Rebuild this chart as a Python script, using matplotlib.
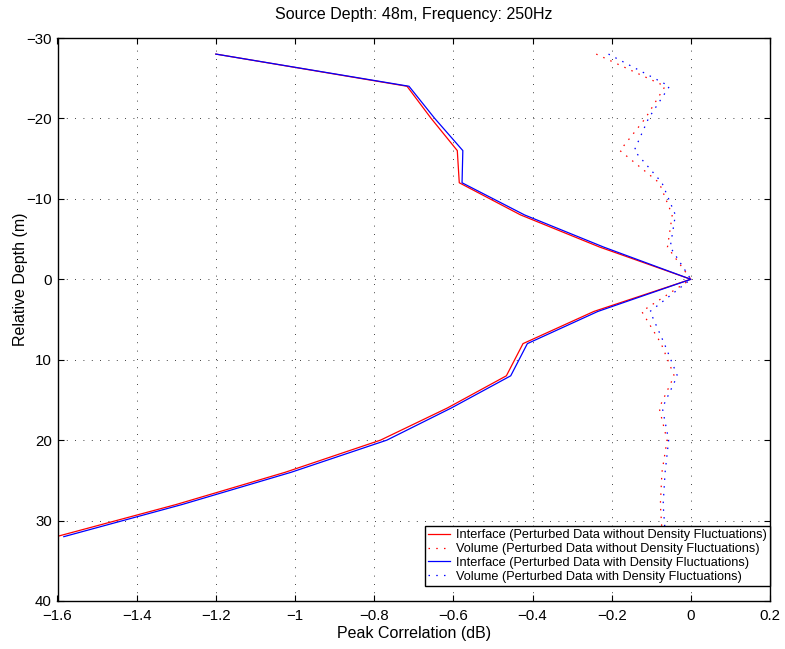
import matplotlib
matplotlib.use("Agg")
import matplotlib.pyplot as plt

plt.rcParams['font.family'] = ['Liberation Sans', 'DejaVu Sans']

depth = [-28, -24, -20, -16, -12, -8, -4, 0, 4, 8, 12, 16, 20, 24, 28, 32]

iface_no_dens = [-1.20, -0.717, -0.656, -0.590, -0.585, -0.430, -0.230, 0.0,
                 -0.245, -0.424, -0.466, -0.615, -0.784, -1.025, -1.300, -1.603]
vol_no_dens = [-0.239, -0.065, -0.115, -0.179, -0.080, -0.047, -0.059, 0.0,
               -0.124, -0.075, -0.042, -0.080, -0.060, -0.073, -0.077, -0.072]
iface_dens = [-1.20, -0.712, -0.647, -0.576, -0.578, -0.420, -0.220, 0.0,
              -0.235, -0.413, -0.455, -0.605, -0.768, -1.010, -1.285, -1.584]
vol_dens = [-0.208, -0.054, -0.107, -0.143, -0.073, -0.039, -0.052, 0.0,
            -0.103, -0.067, -0.034, -0.072, -0.056, -0.065, -0.070, -0.064]

labels = ["Interface (Perturbed Data without Density Fluctuations)",
          "Volume (Perturbed Data without Density Fluctuations)",
          "Interface (Perturbed Data with Density Fluctuations)",
          "Volume (Perturbed Data with Density Fluctuations)"]

xticks = [-1.6, -1.4, -1.2, -1.0, -0.8, -0.6, -0.4, -0.2, 0.0, 0.2]
xticklabels = ["\u22121.6", "\u22121.4", "\u22121.2", "\u22121", "\u22120.8",
               "\u22120.6", "\u22120.4", "\u22120.2", "0", "0.2"]
yticks = [-30, -20, -10, 0, 10, 20, 30, 40]
yticklabels = ["\u221230", "\u221220", "\u221210", "0", "10", "20", "30", "40"]

title = "Source Depth: 48m, Frequency: 250Hz"
xlabel = "Peak Correlation (dB)"
ylabel = "Relative Depth (m)"

fig = plt.figure(figsize=(7.85, 6.49), dpi=100)
ax = fig.add_axes([57.5 / 785, 48 / 649, 712.5 / 785, 563 / 649])

dot = (0, (1.2, 5))
ax.plot(iface_no_dens, depth, color='red', lw=0.9, label=labels[0])
ax.plot(vol_no_dens, depth, color='red', lw=0.9, linestyle=dot, label=labels[1])
ax.plot(iface_dens, depth, color='blue', lw=0.9, label=labels[2])
ax.plot(vol_dens, depth, color='blue', lw=0.9, linestyle=dot, label=labels[3])

ax.set_xlim(-1.6, 0.2)
ax.set_ylim(40, -30)
ax.set_xticks(xticks)
ax.set_xticklabels(xticklabels)
ax.set_yticks(yticks)
ax.set_yticklabels(yticklabels)

ax.grid(True, color='black', linestyle=(0, (1, 9)), linewidth=0.6)
ax.tick_params(direction='in', length=4, width=0.8, top=True, right=True,
               labelsize=10.8)
ax.tick_params(axis='x', pad=6)
ax.tick_params(axis='y', pad=4)
for s in ax.spines.values():
    s.set_linewidth(1.0)

ax.set_title(title, fontsize=11.5, pad=14)
ax.set_xlabel(xlabel, fontsize=11.5, labelpad=2)
ax.set_ylabel(ylabel, fontsize=11.5)
ax.yaxis.set_label_coords(-0.041, (601 - 279) / 563)

leg = ax.legend(loc='lower right', bbox_to_anchor=(1.0, 15 / 563), borderaxespad=0,
                fontsize=9.2, frameon=True, fancybox=False, framealpha=1,
                edgecolor='black', labelspacing=0.15, handlelength=1.7,
                handletextpad=0.5, borderpad=0.25)
leg.get_frame().set_linewidth(1.0)

fig.savefig("out.png", dpi=100)
